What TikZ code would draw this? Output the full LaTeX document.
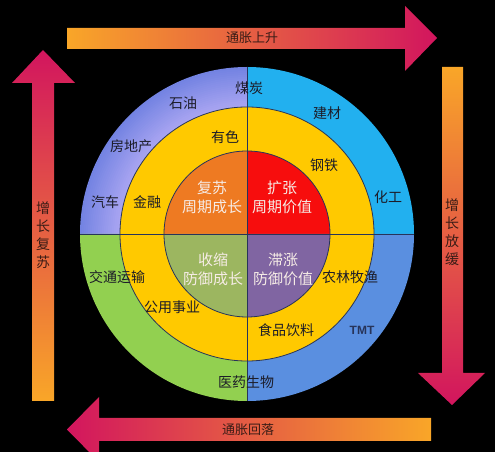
\documentclass[tikz,border=0pt]{standalone}
\usepackage{fontspec}
\setmainfont{Noto Sans CJK SC}
\newfontfamily\tmtfont{Liberation Sans}
\usetikzlibrary{arrows.meta,positioning}
\definecolor{LavLight}{HTML}{ABA6F2}
\definecolor{LavDark}{HTML}{7383E2}
\definecolor{SkyCyan}{HTML}{22B0EF}
\definecolor{CornBlue}{HTML}{5A8FE0}
\definecolor{LeafGreen}{HTML}{92D050}
\definecolor{RingYellow}{HTML}{FFC900}
\definecolor{CoreOrange}{HTML}{EE7A22}
\definecolor{CoreRed}{HTML}{F70D0D}
\definecolor{CoreOlive}{HTML}{9CB660}
\definecolor{CorePurple}{HTML}{8065A2}
\definecolor{RingLine}{HTML}{27345A}
\definecolor{LabelDark}{HTML}{1C1C28}
\definecolor{CoreText}{HTML}{F6ECE6}
\definecolor{ArrOrange}{HTML}{F9A628}
\definecolor{ArrCrimson}{HTML}{D2155E}
\definecolor{ArrText}{HTML}{3A1C16}

\begin{document}
\begin{tikzpicture}[
    x=1pt, y=1pt,
    lbl/.style={font=\fontsize{14}{17}\selectfont,text=LabelDark,inner sep=1pt},
    core/.style={font=\fontsize{15}{19}\selectfont,text=CoreText,align=center,inner sep=1pt},
    band/.style={font=\fontsize{13}{16}\selectfont,text=ArrText,inner sep=1pt},
    vband/.style={band,align=center,font=\fontsize{14}{18}\selectfont},
    ring/.style={draw=RingLine,line width=0.8pt},
  ]
  % background
  \fill[black] (0,0) rectangle (495,452);
  \clip (0,0) rectangle (495,452);
  \coordinate (C) at (247,218);

  % outer ring - quarter sectors
  \foreach \k in {0,...,20}{
    \pgfmathtruncatemacro\pc{100-5*\k}
    \pgfmathsetmacro\rr{167-2*\k}
    \fill[LavDark!\pc!LavLight] (C) -- ++(90:\rr pt)
      arc[start angle=90,end angle=180,radius=\rr pt] -- cycle;
  }
  \fill[SkyCyan] (C) -- ++(0:167pt) arc[start angle=0,end angle=90,radius=167pt] -- cycle;
  \fill[LeafGreen] (C) -- ++(180:167pt) arc[start angle=180,end angle=270,radius=167pt] -- cycle;
  \fill[CornBlue] (C) -- ++(270:167pt) arc[start angle=270,end angle=360,radius=167pt] -- cycle;

  % middle ring
  \fill[RingYellow,ring] (C) circle[radius=127pt];

  % core quadrants
  \fill[CoreRed] (C) -- ++(0:83pt) arc[start angle=0,end angle=90,radius=83pt] -- cycle;
  \fill[CoreOrange] (C) -- ++(90:83pt) arc[start angle=90,end angle=180,radius=83pt] -- cycle;
  \fill[CoreOlive] (C) -- ++(180:83pt) arc[start angle=180,end angle=270,radius=83pt] -- cycle;
  \fill[CorePurple] (C) -- ++(270:83pt) arc[start angle=270,end angle=360,radius=83pt] -- cycle;
  \draw[ring] (C) circle[radius=83pt];

  % dividers
  \draw[ring] ([yshift=167pt]C) -- ([yshift=-167pt]C);
  \draw[ring] ([xshift=-167pt]C) -- ([xshift=167pt]C);

  % cycle arrows
  \shade[left color=ArrOrange,right color=ArrCrimson]
    (67,403) -- (405,403) -- (405,381) -- (437,414) -- (405,446) -- (405,424) -- (67,424) -- cycle;
  \shade[top color=ArrOrange,bottom color=ArrCrimson]
    (442,385) -- (463,385) -- (463,79) -- (485,79) -- (452,47) -- (418,79) -- (442,79) -- cycle;
  \shade[left color=ArrCrimson,right color=ArrOrange]
    (431,34) -- (99,34) -- (99,55) -- (67,22.5) -- (99,-10) -- (99,11) -- (431,11) -- cycle;
  \shade[top color=ArrCrimson,bottom color=ArrOrange]
    (32,51) -- (32,369) -- (12,369) -- (43,402) -- (75,369) -- (54,369) -- (54,51) -- cycle;

  % arrow labels
  \node[band] (up) at (252,414) {通胀上升};
  \node[band] (down) at (248,22.5) {通胀回落};
  \node[vband] (rise) at (43,217) {增\\长\\复\\苏};
  \node[vband] (slow) at (452,220) {增\\长\\放\\缓};

  % core labels
  \node[core] (recov) at (212,254.5) {复苏\\周期成长};
  \node[core] (expan) at (282,254.5) {扩张\\周期价值};
  \node[core] (contr) at (213,183) {收缩\\防御成长};
  \node[core] (stag) at (283,183) {滞涨\\防御价值};

  % sector labels
  \node[lbl] (coal) at (249,364) {煤炭};
  \node[lbl] (oil) at (183,349) {石油};
  \node[lbl] (build) at (327,339) {建材};
  \node[lbl] (metal) at (225,315) {有色};
  \node[lbl] (estate) at (131,306) {房地产};
  \node[lbl] (steel) at (324,287) {钢铁};
  \node[lbl] (auto) at (105,250) {汽车};
  \node[lbl] (fin) at (147,250) {金融};
  \node[lbl] (chem) at (388,255) {化工};
  \node[lbl] (trans) at (117,175) {交通运输};
  \node[lbl] (agri) at (350,175) {农林牧渔};
  \node[lbl] (util) at (172,145) {公用事业};
  \node[lbl] (food) at (286,122) {食品饮料};
  \node[lbl,font=\tmtfont\bfseries\fontsize{12}{14}\selectfont,text=RingLine] (tmt) at (362,122) {TMT};
  \node[lbl] (pharma) at (246,70) {医药生物};
\end{tikzpicture}
\end{document}
